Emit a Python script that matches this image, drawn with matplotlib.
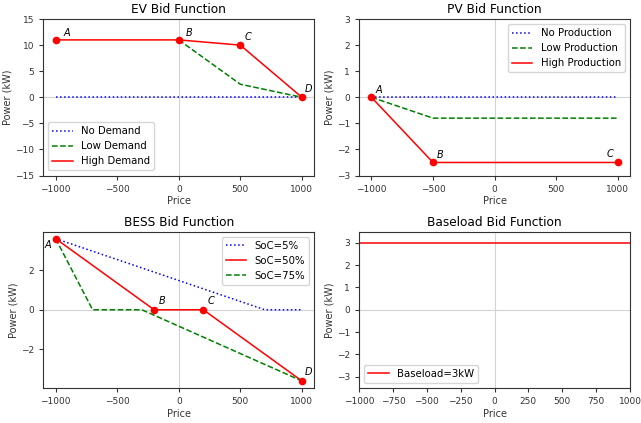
import matplotlib.pyplot as plt

# EV bid function
ev_price = [-1000, 0, 500, 1000]
ev_high = [11, 11, 10, 0]
ev_low_price = [0, 500, 1000]
ev_low = [11, 2.5, 0]
ev_none_price = [-1000, 1000]
ev_none = [0, 0]
ev_labels = ['A', 'B', 'C', 'D']

# PV bid function
pv_price = [-1000, -500, 1000]
pv_high = [0, -2.5, -2.5]
pv_low = [0, -0.8, -0.8]
pv_none = [0, 0, 0]
pv_labels = ['A', 'B', 'C']

# BESS bid function
bess_price = [-1000, -200, 200, 1000]
bess_50 = [3.6, 0, 0, -3.6]
bess_5_price = [-1000, 700, 1000]
bess_5 = [3.6, 0, 0]
bess_75_price = [-1000, -700, -300, 1000]
bess_75 = [3.6, 0, 0, -3.6]
bess_labels = ['A', 'B', 'C', 'D']

# Baseload
base_price = [-1000, 1000]
base_load = [3, 3]

plt.rcParams['font.size'] = 7
plt.rcParams['xtick.labelsize'] = 6.5
plt.rcParams['ytick.labelsize'] = 6.5
plt.rcParams['legend.fontsize'] = 7.3
plt.rcParams['axes.titlesize'] = 8.7
plt.rcParams['axes.titlepad'] = 4
plt.rcParams['axes.edgecolor'] = '#333333'
plt.rcParams['xtick.color'] = '#333333'
plt.rcParams['ytick.color'] = '#333333'
plt.rcParams['axes.labelcolor'] = '#333333'
plt.rcParams['xtick.major.size'] = 3
plt.rcParams['ytick.major.size'] = 3

fig, axs = plt.subplots(2, 2, figsize=(6.41, 4.23), dpi=100)
fig.subplots_adjust(left=0.0676, right=0.9828, top=0.955, bottom=0.0827, wspace=0.166, hspace=0.358)

ticks500 = [-1000, -500, 0, 500, 1000]


def guides(ax):
    ax.axhline(0, color='lightgray', lw=0.8, zorder=0)
    ax.axvline(0, color='lightgray', lw=0.8, zorder=0)
    ax.set_xlabel('Price', labelpad=2)
    ax.set_ylabel('Power (kW)', labelpad=2)


def tag(ax, xs, ys, labels, offsets):
    for x, y, t, o in zip(xs, ys, labels, offsets):
        ax.annotate(t, (x, y), xytext=o, textcoords='offset points', style='italic', fontsize=7)


# EV
ax = axs[0, 0]
guides(ax)
ax.plot(ev_none_price, ev_none, ':', color='blue', lw=1.1, label='No Demand')
ax.plot(ev_low_price, ev_low, '--', color='green', lw=1.1, label='Low Demand')
ax.plot(ev_price, ev_high, '-', color='red', lw=1.1, label='High Demand')
ax.plot(ev_price, ev_high, 'o', color='red', ms=4.5)
tag(ax, ev_price, ev_high, ev_labels, [(6, 3), (5, 3), (3, 4), (2, 4)])
ax.set_xticks(ticks500)
ax.set_ylim(-15, 15)
ax.set_title('EV Bid Function')
ax.legend(loc='lower left')

# PV
ax = axs[0, 1]
guides(ax)
ax.plot(pv_price, pv_none, ':', color='blue', lw=1.1, label='No Production')
ax.plot(pv_price, pv_low, '--', color='green', lw=1.1, label='Low Production')
ax.plot(pv_price, pv_high, '-', color='red', lw=1.1, label='High Production')
ax.plot(pv_price, pv_high, 'o', color='red', ms=4.5)
tag(ax, pv_price, pv_high, pv_labels, [(3, 3), (3, 3), (-8, 4)])
ax.set_xticks(ticks500)
ax.set_ylim(-3, 3)
ax.set_title('PV Bid Function')
ax.legend(loc='upper right')

# BESS
ax = axs[1, 0]
guides(ax)
ax.plot(bess_5_price, bess_5, ':', color='blue', lw=1.1, label='SoC=5%')
ax.plot(bess_price, bess_50, '-', color='red', lw=1.1, label='SoC=50%')
ax.plot(bess_75_price, bess_75, '--', color='green', lw=1.1, label='SoC=75%')
ax.plot(bess_price, bess_50, 'o', color='red', ms=4.5)
tag(ax, bess_price, bess_50, bess_labels, [(-8, -7), (3, 4), (3, 4), (2, 4)])
ax.set_xticks(ticks500)
ax.set_yticks([-2, 0, 2])
ax.set_title('BESS Bid Function')
ax.legend(loc='upper right')

# Baseload
ax = axs[1, 1]
guides(ax)
ax.plot(base_price, base_load, '-', color='red', lw=1.1, label='Baseload=3kW')
ax.set_xlim(-1000, 1000)
ax.set_ylim(-3.5, 3.5)
ax.set_xticks(range(-1000, 1001, 250))
ax.set_title('Baseload Bid Function')
ax.legend(loc='lower left')

plt.savefig('out.png')
